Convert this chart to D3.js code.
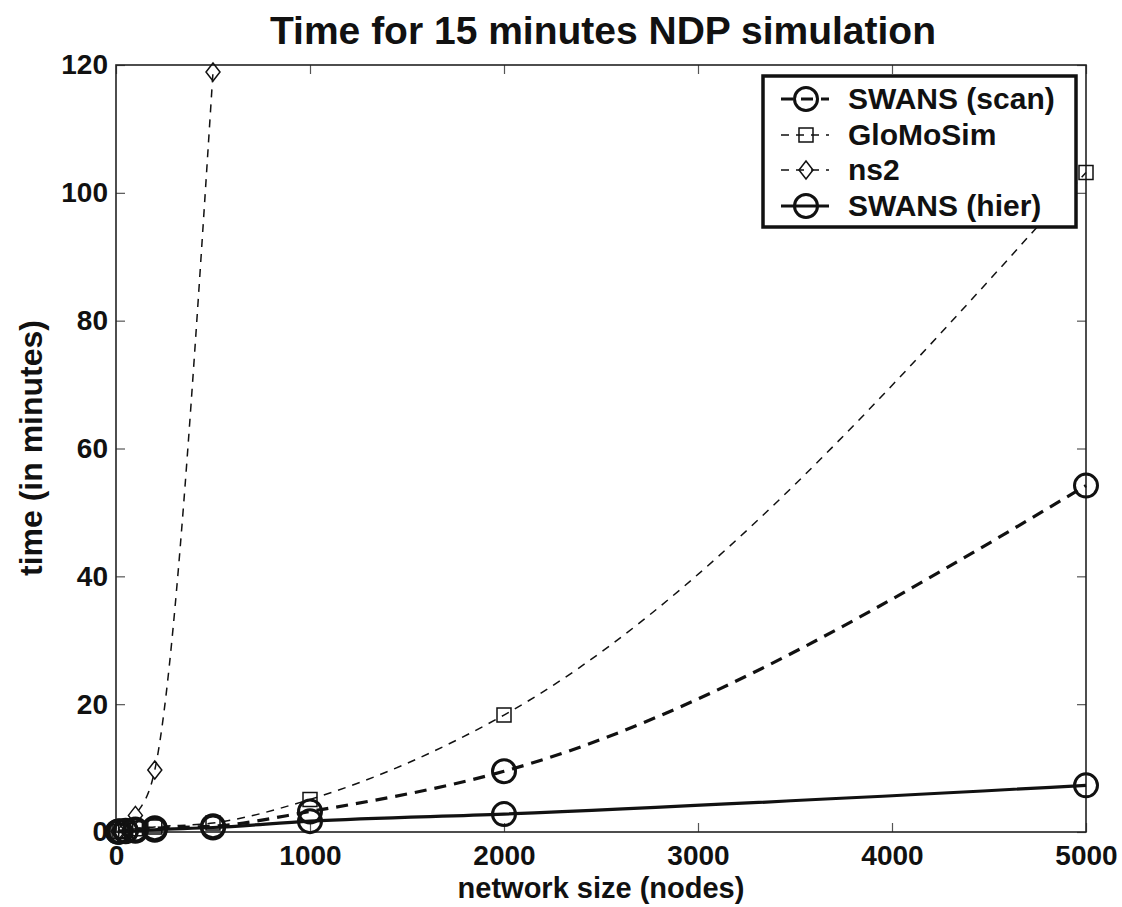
<!DOCTYPE html>
<html>
<head>
<meta charset="utf-8">
<script src="https://cdn.jsdelivr.net/npm/d3@7"></script>
<style>
  body { margin: 0; background: #fff; }
  svg text { font-family: "Liberation Sans", Arial, sans-serif; font-weight: bold; fill: #111; }
</style>
</head>
<body>
<svg id="chart" width="1122" height="907"></svg>
<script>
// data (x = nodes, y = minutes)
var nodes = [10, 20, 50, 100, 200, 500, 1000, 2000, 5000];
var ns2Nodes = [10, 20, 50, 100, 200, 500];

var swansScan = [0.05, 0.1, 0.2, 0.4, 0.6, 0.9, 3.2, 9.5, 54.2];
var gloMoSim = [0.05, 0.1, 0.2, 0.5, 0.8, 1.4, 5.1, 18.3, 103.2];
var ns2 = [0.1, 0.2, 0.5, 2.6, 9.7, 118.9];
var swansHier = [0.03, 0.05, 0.1, 0.2, 0.35, 0.7, 1.7, 2.8, 7.3];

var xTicks = [0, 1000, 2000, 3000, 4000, 5000];
var yTicks = [0, 20, 40, 60, 80, 100, 120];

var seriesNames = ['SWANS (scan)', 'GloMoSim', 'ns2', 'SWANS (hier)'];

// plot box (note: "top" is reserved on window, so use plotTop)
var plotLeft = 116, plotRight = 1086, plotTop = 65, plotBottom = 832;

var svg = d3.select('#chart');

var x = d3.scaleLinear().domain([0, 5000]).range([plotLeft, plotRight]);
var y = d3.scaleLinear().domain([0, 120]).range([plotBottom, plotTop]);

// series styles
var series = [
    {name: seriesNames[0], xs: nodes, ys: swansScan, width: 3.2, dash: '12,8', marker: 'circle', mwidth: 3},
    {name: seriesNames[1], xs: nodes, ys: gloMoSim, width: 1.5, dash: '8,7', marker: 'square', mwidth: 1.5},
    {name: seriesNames[2], xs: ns2Nodes, ys: ns2, width: 1.5, dash: '8,7', marker: 'diamond', mwidth: 1.5},
    {name: seriesNames[3], xs: nodes, ys: swansHier, width: 3.2, dash: null, marker: 'circle', mwidth: 3}
];

function markerPath(type) {
    if (type === 'square') return 'M-7,-7H7V7H-7Z';
    if (type === 'diamond') return 'M0,-9L7,0L0,9L-7,0Z';
    return d3.symbol().type(d3.symbolCircle).size(Math.PI * 11.5 * 11.5)();
}

// axes box
var axes = svg.append('g').classed('axes', true);

axes.append('g')
    .attr('transform', 'translate(0,' + plotBottom + ')')
    .call(d3.axisBottom(x).tickValues(xTicks).tickSizeInner(-9).tickSizeOuter(0).tickPadding(13).tickFormat(d3.format('d')));
axes.append('g')
    .attr('transform', 'translate(0,' + plotTop + ')')
    .call(d3.axisTop(x).tickValues(xTicks).tickSizeInner(-9).tickSizeOuter(0).tickFormat(''));
axes.append('g')
    .attr('transform', 'translate(' + plotLeft + ',0)')
    .call(d3.axisLeft(y).tickValues(yTicks).tickSizeInner(-9).tickSizeOuter(0).tickPadding(8).tickFormat(d3.format('d')));
axes.append('g')
    .attr('transform', 'translate(' + plotRight + ',0)')
    .call(d3.axisRight(y).tickValues(yTicks).tickSizeInner(-9).tickSizeOuter(0).tickFormat(''));

axes.selectAll('.domain').remove();
axes.selectAll('.tick line').attr('stroke', '#555').attr('stroke-width', 1.2);
axes.selectAll('.tick text').style('font-size', '28px').attr('fill', '#111');

axes.append('rect')
    .attr('x', plotLeft).attr('y', plotTop)
    .attr('width', plotRight - plotLeft).attr('height', plotBottom - plotTop)
    .attr('fill', 'none').attr('stroke', '#222').attr('stroke-width', 1.6);

// lines (smoothed, as in the original) and markers
var line = d3.line()
    .curve(d3.curveMonotoneX)
    .x(function (d) { return x(d[0]); })
    .y(function (d) { return y(d[1]); });

var plot = svg.append('g').classed('series', true);

series.forEach(function (s) {
    var pts = s.xs.map(function (v, i) { return [v, s.ys[i]]; });
    plot.append('path')
        .attr('d', line(pts))
        .attr('fill', 'none')
        .attr('stroke', '#111')
        .attr('stroke-width', s.width)
        .attr('stroke-dasharray', s.dash);
    plot.selectAll(null)
        .data(pts)
        .enter()
        .append('path')
        .attr('d', markerPath(s.marker))
        .attr('transform', function (d) { return 'translate(' + x(d[0]) + ',' + y(d[1]) + ')'; })
        .attr('fill', 'none')
        .attr('stroke', '#111')
        .attr('stroke-width', s.mwidth);
});

// labels
svg.append('text')
    .attr('x', 603).attr('y', 44)
    .attr('text-anchor', 'middle')
    .style('font-size', '39px')
    .text('Time for 15 minutes NDP simulation');

svg.append('text')
    .attr('x', 601).attr('y', 898)
    .attr('text-anchor', 'middle')
    .style('font-size', '29px')
    .text('network size (nodes)');

svg.append('text')
    .attr('transform', 'translate(42,448) rotate(-90)')
    .attr('text-anchor', 'middle')
    .style('font-size', '32px')
    .text('time (in minutes)');

// legend
var legend = svg.append('g').classed('legend', true);
legend.append('rect')
    .attr('x', 763).attr('y', 76)
    .attr('width', 313).attr('height', 151)
    .attr('fill', '#fff').attr('stroke', '#111').attr('stroke-width', 3.5);

var legendRows = [99, 135, 170, 206];

series.forEach(function (s, i) {
    var g = legend.append('g').attr('transform', 'translate(0,' + legendRows[i] + ')');
    g.append('line')
        .attr('x1', 781).attr('x2', 829)
        .attr('stroke', '#111')
        .attr('stroke-width', s.width)
        .attr('stroke-dasharray', s.dash);
    g.append('path')
        .attr('d', markerPath(s.marker))
        .attr('transform', 'translate(806,0)')
        .attr('fill', 'none')
        .attr('stroke', '#111')
        .attr('stroke-width', s.mwidth);
    g.append('text')
        .attr('x', 848).attr('y', 10)
        .style('font-size', '30px')
        .text(s.name);
});
</script>
</body>
</html>
